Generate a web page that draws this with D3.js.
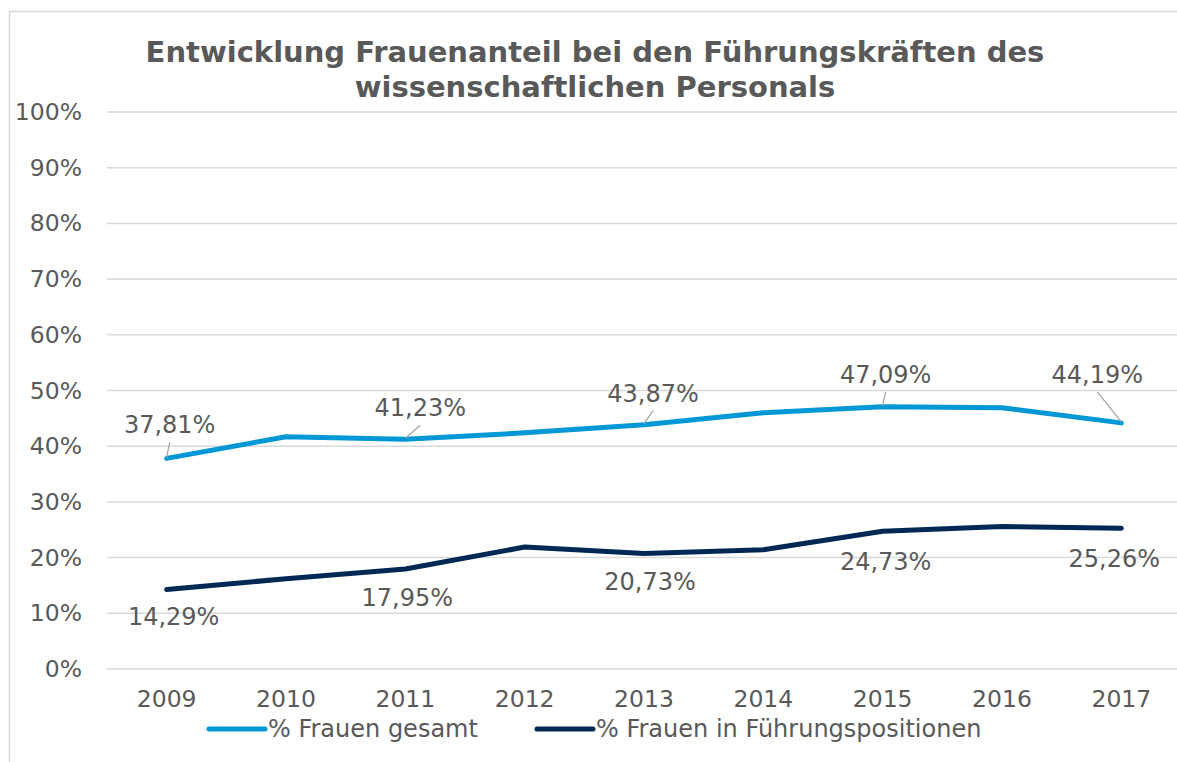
<!DOCTYPE html>
<html>
<head>
<meta charset="utf-8">
<script src="https://cdn.jsdelivr.net/npm/d3@7"></script>
<style>
  body { margin: 0; background: #fff; }
  text { font-family: "DejaVu Sans", sans-serif; fill: #595959; }
</style>
</head>
<body>
<div id="chart"></div>
<script>
const years = ['2009', '2010', '2011', '2012', '2013', '2014', '2015', '2016', '2017'];
const gesamt = [37.81, 41.7, 41.23, 42.4, 43.87, 46.0, 47.09, 46.9, 44.19];
const fuehrung = [14.29, 16.2, 17.95, 21.9, 20.73, 21.4, 24.73, 25.6, 25.26];
const yTicks = [0, 10, 20, 30, 40, 50, 60, 70, 80, 90, 100];
const gesamtLabels = ['37,81%', null, '41,23%', null, '43,87%', null, '47,09%', null, '44,19%'];
const fuehrungLabels = ['14,29%', null, '17,95%', null, '20,73%', null, '24,73%', null, '25,26%'];
const seriesNames = ['% Frauen gesamt', '% Frauen in Führungspositionen'];

const width = 1177, height = 762;
const colors = ['#0097d6', '#002855'];

const svg = d3.select('#chart').append('svg')
    .attr('width', width)
    .attr('height', height);

// outer frame
svg.append('rect')
    .attr('x', 9.5).attr('y', 11.5)
    .attr('width', 1200).attr('height', 800)
    .attr('fill', 'none').attr('stroke', '#d9d9d9').attr('stroke-width', 1.5);

const x = d3.scaleBand().domain(years).range([107, 1181]);
const y = d3.scaleLinear().domain([0, 100]).range([669, 112]);
const cx = (d) => x(d) + x.bandwidth() / 2;

// gridlines
svg.append('g')
    .selectAll('line')
    .data(yTicks)
    .join('line')
    .attr('x1', 107).attr('x2', 1181)
    .attr('y1', (d) => y(d)).attr('y2', (d) => y(d))
    .attr('stroke', '#d9d9d9').attr('stroke-width', 1.5);

const yAxis = d3.axisLeft(y).tickValues(yTicks).tickSize(0).tickPadding(0)
    .tickFormat((d) => d + '%');
svg.append('g')
    .attr('transform', 'translate(82,0)')
    .call(yAxis)
    .call((g) => g.select('.domain').remove())
    .call((g) => g.selectAll('text').attr('font-size', 23.5).attr('font-family', null).attr('fill', null));

const xAxis = d3.axisBottom(x).tickSize(0).tickPadding(0);
svg.append('g')
    .attr('transform', 'translate(0,707)')
    .call(xAxis)
    .call((g) => g.select('.domain').remove())
    .call((g) => g.selectAll('text').attr('dy', 0).attr('font-size', 23.5).attr('font-family', null).attr('fill', null));

const line = d3.line().x((d, i) => cx(years[i])).y((d) => y(d));

[gesamt, fuehrung].forEach((s, k) => {
    svg.append('path')
        .datum(s)
        .attr('d', line)
        .attr('fill', 'none')
        .attr('stroke', colors[k])
        .attr('stroke-width', 5)
        .attr('stroke-linejoin', 'round')
        .attr('stroke-linecap', 'round');
});

// data labels, gesamt above (with leader lines), fuehrung below
const gLab = years.map((yr, i) => ({ yr, v: gesamt[i], t: gesamtLabels[i] })).filter((d) => d.t);
const gOffsets = { '2009': [3, -25], '2011': [15, -23], '2013': [9, -23], '2015': [3, -24], '2017': [-24, -40] };
svg.append('g').selectAll('line')
    .data(gLab)
    .join('line')
    .attr('x1', (d) => cx(d.yr))
    .attr('y1', (d) => y(d.v) - 1)
    .attr('x2', (d) => cx(d.yr) + gOffsets[d.yr][0])
    .attr('y2', (d) => y(d.v) + gOffsets[d.yr][1] + 9)
    .attr('stroke', '#a6a6a6').attr('stroke-width', 1.3);
svg.append('g').selectAll('text')
    .data(gLab)
    .join('text')
    .attr('x', (d) => cx(d.yr) + gOffsets[d.yr][0])
    .attr('y', (d) => y(d.v) + gOffsets[d.yr][1])
    .attr('text-anchor', 'middle')
    .attr('font-size', 24)
    .text((d) => d.t);

const fLab = years.map((yr, i) => ({ yr, v: fuehrung[i], t: fuehrungLabels[i] })).filter((d) => d.t);
const fOffsets = { '2009': [7, 36], '2011': [2, 37], '2013': [6, 36], '2015': [3, 39], '2017': [-7, 39] };
svg.append('g').selectAll('text')
    .data(fLab)
    .join('text')
    .attr('x', (d) => cx(d.yr) + fOffsets[d.yr][0])
    .attr('y', (d) => y(d.v) + fOffsets[d.yr][1])
    .attr('text-anchor', 'middle')
    .attr('font-size', 24)
    .text((d) => d.t);

// title
svg.append('text')
    .attr('text-anchor', 'middle')
    .attr('font-size', 29)
    .attr('font-weight', 'bold')
    .selectAll('tspan')
    .data(['Entwicklung Frauenanteil bei den Führungskräften des', 'wissenschaftlichen Personals'])
    .join('tspan')
    .attr('x', 595)
    .attr('y', (d, i) => 62 + i * 35)
    .text((d) => d);

// legend
const legX = [209, 537];
const leg = svg.append('g').selectAll('g')
    .data(seriesNames)
    .join('g')
    .attr('transform', (d, i) => `translate(${legX[i]},729)`);
leg.append('line')
    .attr('x1', 0).attr('x2', 56)
    .attr('stroke', (d, i) => colors[i])
    .attr('stroke-width', 5)
    .attr('stroke-linecap', 'round');
leg.append('text')
    .attr('x', 59).attr('y', 8)
    .attr('font-size', 24)
    .text((d) => d);
</script>
</body>
</html>
